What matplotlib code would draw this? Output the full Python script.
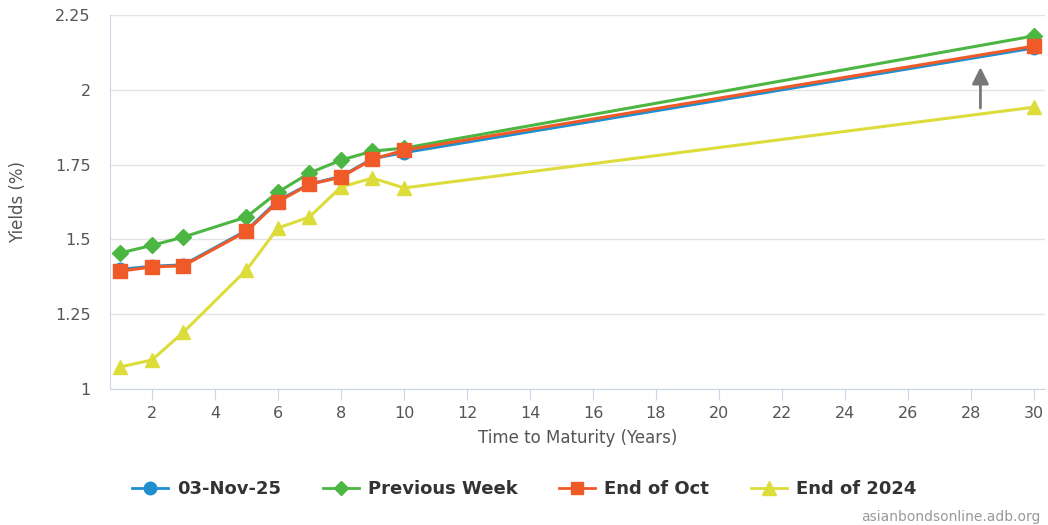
import matplotlib
matplotlib.use("Agg")
import matplotlib.pyplot as plt
from matplotlib.lines import Line2D

tenors = [1, 2, 3, 5, 6, 7, 8, 9, 10, 30]
nov03 = [1.40, 1.41, 1.415, 1.53, 1.63, 1.685, 1.71, 1.77, 1.79, 2.14]
prev_week = [1.455, 1.48, 1.508, 1.575, 1.658, 1.722, 1.765, 1.795, 1.805, 2.18]
end_oct = [1.394, 1.408, 1.412, 1.527, 1.626, 1.684, 1.708, 1.768, 1.798, 2.146]
end_2024 = [1.074, 1.097, 1.19, 1.398, 1.538, 1.575, 1.675, 1.705, 1.672, 1.942]
series_names = ["03-Nov-25", "Previous Week", "End of Oct", "End of 2024"]
x_ticks = list(range(2, 31, 2))
y_ticks = [1, 1.25, 1.5, 1.75, 2, 2.25]
y_tick_labels = ["1", "1.25", "1.5", "1.75", "2", "2.25"]
arrow_x = 28.3
arrow_from, arrow_to = 1.93, 2.085

plt.rcParams['font.family'] = ['DejaVu Sans']
fig = plt.figure(figsize=(10.48, 5.25), dpi=100)
ax = fig.add_axes([110/1048, 1-389/525, (1045-110)/1048, (389-15)/525])

blue = "#1f8fd0"
green = "#4cb642"
orange = "#f05a28"
yellow = "#dcdc3a"

ax.plot(tenors, nov03, color=blue, lw=2.2, marker="o", ms=9, zorder=3)
ax.plot(tenors, prev_week, color=green, lw=2.2, marker="D", ms=8, zorder=4)
ax.plot(tenors, end_oct, color=orange, lw=2.2, marker="s", ms=10, zorder=5)
ax.plot(tenors, end_2024, color=yellow, lw=2.2, marker="^", ms=10, zorder=2)

ax.annotate("", xy=(arrow_x, arrow_to), xytext=(arrow_x, arrow_from),
            arrowprops=dict(arrowstyle="-|>,head_length=1.0,head_width=0.5", color="#777777", lw=2),
            zorder=6)

ax.set_xlim(0.667, 30.35)
ax.set_ylim(1, 2.25)
ax.set_xticks(x_ticks)
ax.set_yticks(y_ticks)
ax.set_yticklabels(y_tick_labels)
ax.grid(axis="y", color="#e3e3e3", lw=1)
ax.set_axisbelow(True)
for s in ["top", "right"]:
    ax.spines[s].set_visible(False)
ax.spines["left"].set_color("#ccd6eb")
ax.spines["bottom"].set_color("#ccd6eb")
ax.tick_params(axis="y", length=0, labelsize=11.5, labelcolor="#555555", pad=14)
ax.tick_params(axis="x", length=8, color="#ccd6eb", labelsize=11.5, labelcolor="#555555", pad=4)
ax.set_xlabel("Time to Maturity (Years)", fontsize=12, color="#555555", labelpad=6)
ax.set_ylabel("Yields (%)", fontsize=12, color="#555555", labelpad=20)

handles = [
    Line2D([], [], color=blue, lw=2, marker="o", ms=9),
    Line2D([], [], color=green, lw=2, marker="D", ms=7),
    Line2D([], [], color=orange, lw=2, marker="s", ms=9),
    Line2D([], [], color=yellow, lw=2, marker="^", ms=10),
]
leg = fig.legend(handles, series_names, loc="center", bbox_to_anchor=(524/1048, 1-489/525),
                 ncol=4, frameon=False, fontsize=13, handlelength=2, columnspacing=2.3,
                 handletextpad=0.5)
for t in leg.get_texts():
    t.set_color("#333333")
    t.set_fontweight("bold")

fig.text(1040/1048, 1-517/525, "asianbondsonline.adb.org", ha="right", va="center",
         fontsize=10, color="#999999")

fig.savefig("out.png", dpi=100)
